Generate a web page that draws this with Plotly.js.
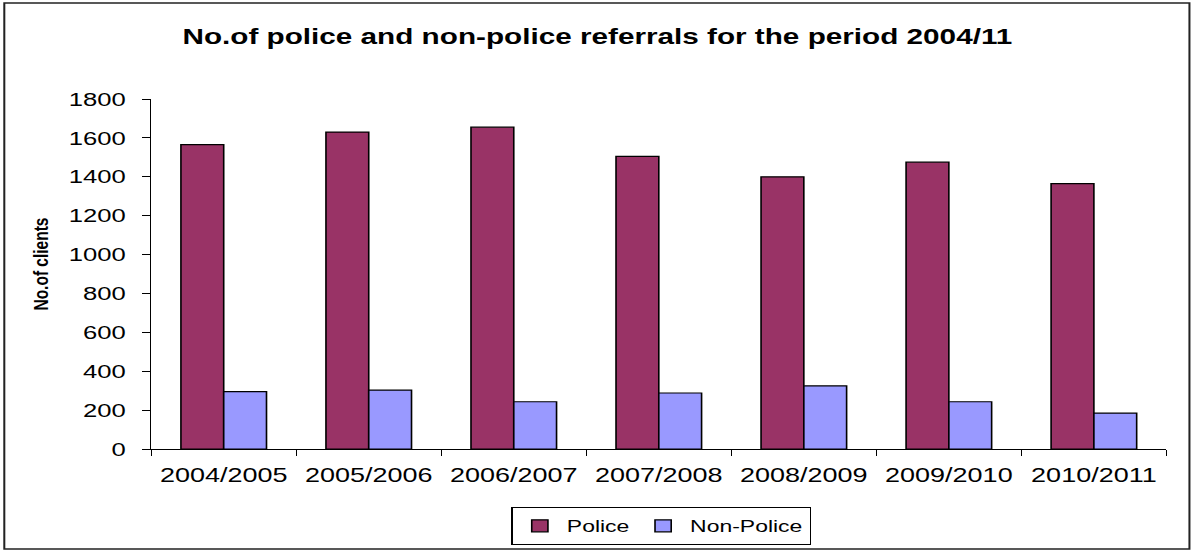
<!DOCTYPE html>
<html>
<head>
<meta charset="utf-8">
<script src="https://cdn.plot.ly/plotly-3.0.1.min.js"></script>
<style>
  html, body { margin: 0; padding: 0; background: #fff; overflow: hidden; }
  #chart { width: 885px; height: 552px; transform: scaleX(1.35); transform-origin: 0 0; }
</style>
</head>
<body>
<div id="chart"></div>
<script>
const categories = ["2004/2005", "2005/2006", "2006/2007", "2007/2008", "2008/2009", "2009/2010", "2010/2011"];
const policeValues = [1565, 1630, 1655, 1505, 1400, 1475, 1365];
const nonPoliceValues = [295, 303, 243, 288, 325, 243, 185];
const yTickValues = [0, 200, 400, 600, 800, 1000, 1200, 1400, 1600, 1800];

const FONT = "Liberation Sans, Arial, sans-serif";

const traces = [
  {
    type: "bar", name: "Police", x: categories, y: policeValues,
    marker: { color: "#993366", line: { color: "#000000", width: 1.2 } }
  },
  {
    type: "bar", name: "Non-Police", x: categories, y: nonPoliceValues,
    marker: { color: "#9999FF", line: { color: "#000000", width: 1.2 } }
  }
];

const layout = {
  width: 885, height: 552,
  margin: { l: 112, r: 21, t: 99, b: 103, autoexpand: false },
  paper_bgcolor: "#ffffff", plot_bgcolor: "#ffffff",
  font: { family: FONT, color: "#000000" },
  barmode: "group", bargap: 0.41, bargroupgap: 0,
  showlegend: true,
  title: {
    text: "<b>No.of police and non-police referrals for the period 2004/11</b>",
    font: { family: FONT, size: 22, color: "#000000" },
    x: 0.5, xanchor: "center", y: 0.935, yanchor: "middle"
  },
  xaxis: {
    type: "category", showgrid: false, zeroline: false, automargin: false,
    showline: true, linecolor: "#000000", linewidth: 1,
    ticks: "outside", tickson: "boundaries", ticklen: 6, tickcolor: "#000000",
    tickfont: { family: FONT, size: 20, color: "#000000" },
    ticklabelstandoff: 8
  },
  yaxis: {
    range: [0, 1800], tickvals: yTickValues, ticktext: yTickValues.map(String),
    showgrid: false, zeroline: false, automargin: false,
    showline: true, linecolor: "#000000", linewidth: 1,
    ticks: "outside", ticklen: 6, tickcolor: "#000000",
    tickfont: { family: FONT, size: 19, color: "#000000" },
    ticklabelstandoff: 8
  },
  legend: {
    orientation: "h", x: 0.5025, xanchor: "center",
    yref: "container", y: 0.081, yanchor: "top",
    bordercolor: "#000000", borderwidth: 1, bgcolor: "#ffffff",
    font: { family: FONT, size: 17, color: "#000000" },
    itemwidth: 30, traceorder: "normal"
  },
  annotations: [
    {
      text: "<b>No.of clients</b>", textangle: -90, showarrow: false,
      xref: "paper", yref: "paper", x: -0.1083, y: 0.5286,
      xanchor: "center", yanchor: "middle",
      font: { family: FONT, size: 15.5, color: "#000000" }
    }
  ],
  shapes: [
    {
      type: "rect", xref: "paper", yref: "paper",
      x0: -0.1447, x1: 1.0227, y0: -0.2857, y1: 1.274,
      line: { color: "#222222", width: 1.5 }, fillcolor: "rgba(0,0,0,0)", layer: "below"
    }
  ]
};

Plotly.newPlot("chart", traces, layout, { staticPlot: true, displayModeBar: false });
</script>
</body>
</html>
